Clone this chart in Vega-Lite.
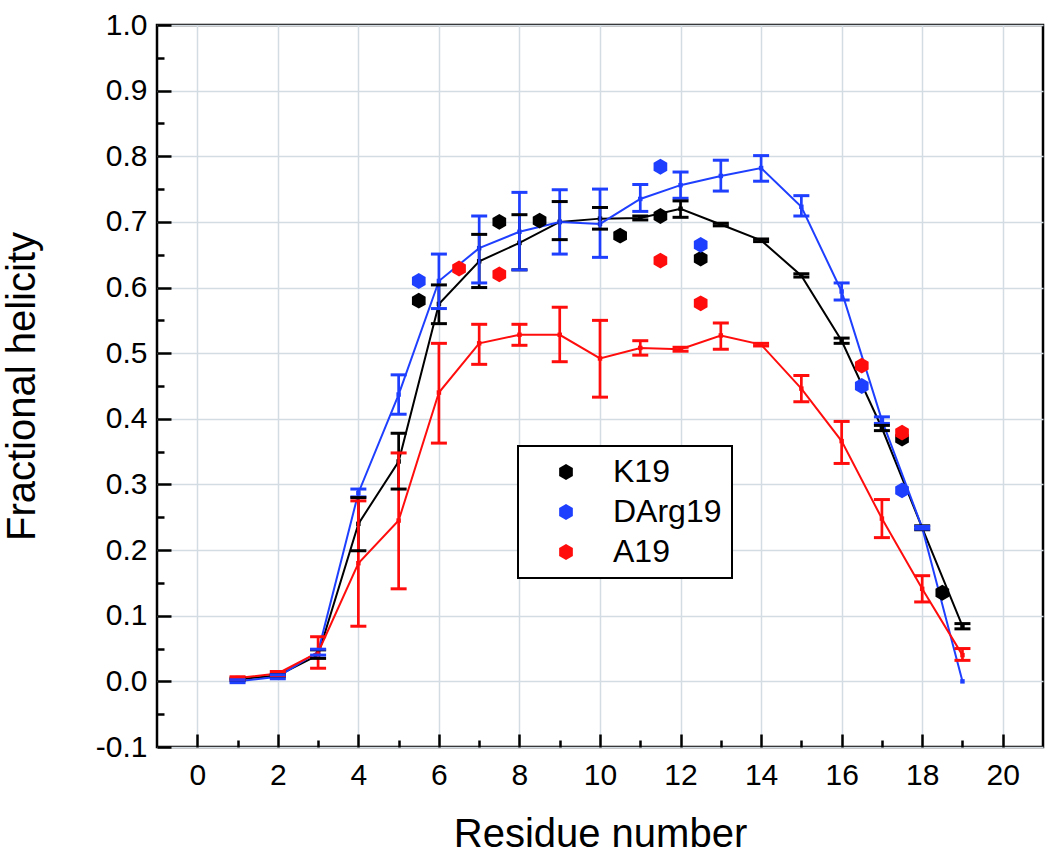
{
  "$schema": "https://vega.github.io/schema/vega-lite/v6.json",
  "width": 886,
  "height": 722,
  "autosize": {"type": "none"},
  "padding": {"left": 157, "top": 25, "right": 7, "bottom": 113},
  "background": "white",
  "config": {
    "view": {"stroke": "black", "strokeWidth": 2.5},
    "font": "Liberation Sans",
    "axis": {
      "domain": false,
      "tickColor": "black",
      "tickWidth": 2.5,
      "labelColor": "black",
      "labelFont": "Liberation Sans",
      "labelFontSize": 30,
      "titleFont": "Liberation Sans",
      "titleFontSize": 40,
      "titleFontWeight": "normal",
      "titleColor": "black",
      "gridColor": "#d3dbe3",
      "gridWidth": 1.5,
      "gridOpacity": 1
    },
    "legend": {"strokeWidth": 2}
  },
  "datasets": {
    "lines": [
      {"series": "K19", "residue": 1, "value": 0.003, "lo": 0.001, "hi": 0.005},
      {"series": "K19", "residue": 2, "value": 0.009, "lo": 0.007, "hi": 0.011},
      {"series": "K19", "residue": 3, "value": 0.040, "lo": 0.035, "hi": 0.048},
      {"series": "K19", "residue": 4, "value": 0.240, "lo": 0.199, "hi": 0.280},
      {"series": "K19", "residue": 5, "value": 0.335, "lo": 0.293, "hi": 0.378},
      {"series": "K19", "residue": 6, "value": 0.575, "lo": 0.545, "hi": 0.604},
      {"series": "K19", "residue": 7, "value": 0.640, "lo": 0.600, "hi": 0.681},
      {"series": "K19", "residue": 8, "value": 0.668, "lo": 0.627, "hi": 0.711},
      {"series": "K19", "residue": 9, "value": 0.700, "lo": 0.673, "hi": 0.731},
      {"series": "K19", "residue": 10, "value": 0.705, "lo": 0.689, "hi": 0.722},
      {"series": "K19", "residue": 11, "value": 0.706, "lo": 0.703, "hi": 0.709},
      {"series": "K19", "residue": 12, "value": 0.720, "lo": 0.707, "hi": 0.732},
      {"series": "K19", "residue": 13, "value": 0.696, "lo": 0.694, "hi": 0.698},
      {"series": "K19", "residue": 14, "value": 0.672, "lo": 0.670, "hi": 0.674},
      {"series": "K19", "residue": 15, "value": 0.618, "lo": 0.616, "hi": 0.621},
      {"series": "K19", "residue": 16, "value": 0.519, "lo": 0.515, "hi": 0.523},
      {"series": "K19", "residue": 17, "value": 0.386, "lo": 0.382, "hi": 0.390},
      {"series": "K19", "residue": 18, "value": 0.234, "lo": 0.231, "hi": 0.237},
      {"series": "K19", "residue": 19, "value": 0.084, "lo": 0.080, "hi": 0.088},
      {"series": "DArg19", "residue": 1, "value": 0.000, "lo": -0.002, "hi": 0.003},
      {"series": "DArg19", "residue": 2, "value": 0.007, "lo": 0.004, "hi": 0.010},
      {"series": "DArg19", "residue": 3, "value": 0.045, "lo": 0.040, "hi": 0.049},
      {"series": "DArg19", "residue": 4, "value": 0.287, "lo": 0.281, "hi": 0.293},
      {"series": "DArg19", "residue": 5, "value": 0.437, "lo": 0.407, "hi": 0.467},
      {"series": "DArg19", "residue": 6, "value": 0.610, "lo": 0.568, "hi": 0.651},
      {"series": "DArg19", "residue": 7, "value": 0.660, "lo": 0.607, "hi": 0.709},
      {"series": "DArg19", "residue": 8, "value": 0.685, "lo": 0.627, "hi": 0.745},
      {"series": "DArg19", "residue": 9, "value": 0.700, "lo": 0.651, "hi": 0.749},
      {"series": "DArg19", "residue": 10, "value": 0.697, "lo": 0.646, "hi": 0.750},
      {"series": "DArg19", "residue": 11, "value": 0.735, "lo": 0.716, "hi": 0.757},
      {"series": "DArg19", "residue": 12, "value": 0.756, "lo": 0.736, "hi": 0.776},
      {"series": "DArg19", "residue": 13, "value": 0.770, "lo": 0.747, "hi": 0.794},
      {"series": "DArg19", "residue": 14, "value": 0.782, "lo": 0.762, "hi": 0.801},
      {"series": "DArg19", "residue": 15, "value": 0.723, "lo": 0.709, "hi": 0.740},
      {"series": "DArg19", "residue": 16, "value": 0.594, "lo": 0.581, "hi": 0.607},
      {"series": "DArg19", "residue": 17, "value": 0.398, "lo": 0.393, "hi": 0.403},
      {"series": "DArg19", "residue": 18, "value": 0.234, "lo": 0.232, "hi": 0.236},
      {"series": "DArg19", "residue": 19, "value": 0.000, "lo": null, "hi": null},
      {"series": "A19", "residue": 1, "value": 0.005, "lo": 0.003, "hi": 0.007},
      {"series": "A19", "residue": 2, "value": 0.012, "lo": 0.009, "hi": 0.015},
      {"series": "A19", "residue": 3, "value": 0.044, "lo": 0.020, "hi": 0.068},
      {"series": "A19", "residue": 4, "value": 0.180, "lo": 0.084, "hi": 0.275},
      {"series": "A19", "residue": 5, "value": 0.245, "lo": 0.141, "hi": 0.348},
      {"series": "A19", "residue": 6, "value": 0.440, "lo": 0.363, "hi": 0.515},
      {"series": "A19", "residue": 7, "value": 0.515, "lo": 0.483, "hi": 0.544},
      {"series": "A19", "residue": 8, "value": 0.528, "lo": 0.512, "hi": 0.544},
      {"series": "A19", "residue": 9, "value": 0.528, "lo": 0.487, "hi": 0.570},
      {"series": "A19", "residue": 10, "value": 0.492, "lo": 0.433, "hi": 0.550},
      {"series": "A19", "residue": 11, "value": 0.508, "lo": 0.497, "hi": 0.519},
      {"series": "A19", "residue": 12, "value": 0.506, "lo": 0.503, "hi": 0.509},
      {"series": "A19", "residue": 13, "value": 0.527, "lo": 0.506, "hi": 0.546},
      {"series": "A19", "residue": 14, "value": 0.513, "lo": 0.511, "hi": 0.515},
      {"series": "A19", "residue": 15, "value": 0.446, "lo": 0.426, "hi": 0.466},
      {"series": "A19", "residue": 16, "value": 0.366, "lo": 0.332, "hi": 0.396},
      {"series": "A19", "residue": 17, "value": 0.248, "lo": 0.219, "hi": 0.277},
      {"series": "A19", "residue": 18, "value": 0.141, "lo": 0.121, "hi": 0.161},
      {"series": "A19", "residue": 19, "value": 0.040, "lo": 0.032, "hi": 0.050}
    ],
    "hex": [
      {"series": "K19", "residue": 5.5, "value": 0.580},
      {"series": "K19", "residue": 7.5, "value": 0.700},
      {"series": "K19", "residue": 8.5, "value": 0.702},
      {"series": "K19", "residue": 10.5, "value": 0.679},
      {"series": "K19", "residue": 11.5, "value": 0.709},
      {"series": "K19", "residue": 12.5, "value": 0.644},
      {"series": "K19", "residue": 17.5, "value": 0.370},
      {"series": "K19", "residue": 18.5, "value": 0.135},
      {"series": "DArg19", "residue": 5.5, "value": 0.610},
      {"series": "DArg19", "residue": 11.5, "value": 0.784},
      {"series": "DArg19", "residue": 12.5, "value": 0.665},
      {"series": "DArg19", "residue": 16.5, "value": 0.450},
      {"series": "DArg19", "residue": 17.5, "value": 0.291},
      {"series": "A19", "residue": 6.5, "value": 0.629},
      {"series": "A19", "residue": 7.5, "value": 0.620},
      {"series": "A19", "residue": 11.5, "value": 0.641},
      {"series": "A19", "residue": 12.5, "value": 0.576},
      {"series": "A19", "residue": 16.5, "value": 0.481},
      {"series": "A19", "residue": 17.5, "value": 0.379}
    ]
  },
  "layer": [
    {
      "data": {"name": "lines"},
      "mark": {"type": "line", "strokeWidth": 2},
      "encoding": {
        "x": {"field": "residue", "type": "quantitative", "scale": {"domain": [-1, 21], "nice": false, "zero": false},
              "axis": {"values": [0, 2, 4, 6, 8, 10, 12, 14, 16, 18, 20], "grid": true, "tickSize": -13, "labelPadding": 26, "title": "Residue number", "titlePadding": 24}},
        "y": {"field": "value", "type": "quantitative", "scale": {"domain": [-0.1, 1.0], "nice": false, "zero": false},
              "axis": {"values": [-0.1, 0, 0.1, 0.2, 0.3, 0.4, 0.5, 0.6, 0.7, 0.8, 0.9, 1.0], "grid": true, "tickSize": -14, "labelPadding": 24,
                       "labelExpr": "datum.value < 0 ? '-' + format(-datum.value, '.1f') : format(datum.value, '.1f')",
                       "title": "Fractional helicity", "titlePadding": 53}},
        "color": {"field": "series", "type": "nominal", "scale": {"domain": ["K19", "DArg19", "A19"], "range": ["#000000", "#1f3fff", "#ff0d0d"]}, "legend": null}
      }
    },
    {
      "data": {"name": "lines"},
      "mark": {"type": "point", "shape": "square", "filled": true, "size": 20, "opacity": 1},
      "encoding": {
        "x": {"field": "residue", "type": "quantitative", "axis": null},
        "y": {"field": "value", "type": "quantitative", "axis": null},
        "color": {"field": "series", "type": "nominal", "legend": null}
      }
    },
    {
      "data": {"name": "lines"},
      "mark": {"type": "rule", "strokeWidth": 2.7},
      "encoding": {
        "x": {"field": "residue", "type": "quantitative", "axis": null},
        "y": {"field": "lo", "type": "quantitative", "axis": null},
        "y2": {"field": "hi"},
        "color": {"field": "series", "type": "nominal", "legend": null}
      }
    },
    {
      "data": {"name": "lines"},
      "mark": {"type": "tick", "orient": "horizontal", "size": 16, "thickness": 3, "opacity": 1},
      "encoding": {
        "x": {"field": "residue", "type": "quantitative", "axis": null},
        "y": {"field": "lo", "type": "quantitative", "axis": null},
        "color": {"field": "series", "type": "nominal", "legend": null}
      }
    },
    {
      "data": {"name": "lines"},
      "mark": {"type": "tick", "orient": "horizontal", "size": 16, "thickness": 3, "opacity": 1},
      "encoding": {
        "x": {"field": "residue", "type": "quantitative", "axis": null},
        "y": {"field": "hi", "type": "quantitative", "axis": null},
        "color": {"field": "series", "type": "nominal", "legend": null}
      }
    },
    {
      "data": {"name": "hex"},
      "mark": {"type": "point", "shape": "M0,-1L0.866,-0.5L0.866,0.5L0,1L-0.866,0.5L-0.866,-0.5Z", "filled": true, "size": 250, "opacity": 1},
      "encoding": {
        "x": {"field": "residue", "type": "quantitative",
              "axis": {"orient": "bottom", "values": [1, 3, 5, 7, 9, 11, 13, 15, 17, 19], "grid": false, "labels": false, "tickSize": -7, "title": null}},
        "y": {"field": "value", "type": "quantitative",
              "axis": {"orient": "left", "values": [-0.05, 0.05, 0.15, 0.25, 0.35, 0.45, 0.55, 0.65, 0.75, 0.85, 0.95], "grid": false, "labels": false, "tickSize": -7, "title": null}},
        "color": {"field": "series", "type": "nominal",
                  "legend": {"orient": "none", "legendX": 361, "legendY": 421, "title": null, "strokeColor": "black", "fillColor": "white",
                             "padding": 10, "labelFontSize": 32, "labelFont": "Liberation Sans", "labelColor": "black",
                             "symbolType": "M0,-1L0.866,-0.5L0.866,0.5L0,1L-0.866,0.5L-0.866,-0.5Z", "symbolSize": 250,
                             "symbolOffset": 22, "labelOffset": 31, "rowPadding": 8, "symbolStrokeWidth": 0}}
      }
    }
  ],
  "resolve": {"axis": {"x": "independent", "y": "independent"}, "legend": {"color": "independent"}}
}
